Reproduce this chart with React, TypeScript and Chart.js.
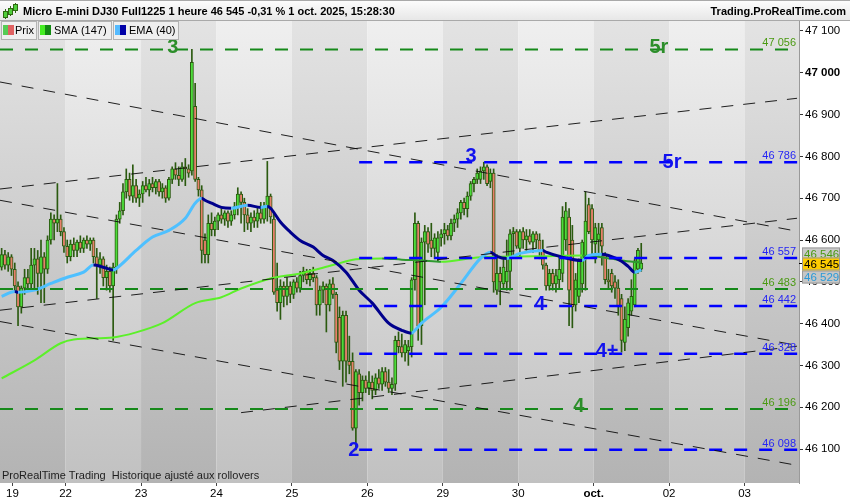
import React, { useEffect, useRef } from 'react';
import { Chart, registerables } from 'chart.js';

Chart.register(...registerables);

const FONT = '"Liberation Sans", Arial, Helvetica, sans-serif';

const titleText = 'Micro E-mini DJ30 Full1225 1 heure 46 545 -0,31 % 1 oct. 2025, 15:28:30';
const brandText = 'Trading.ProRealTime.com';
const footerText = 'ProRealTime Trading  Historique ajusté aux rollovers';
const legendItems = ['Prix', 'SMA (147)', 'EMA (40)'];

// x axis: bar index; day labels and where they sit
const dayLabels = ['19', '22', '23', '24', '25', '26', '29', '30', 'oct.', '02', '03'];
const dayTickAt = [3.3, 19.5, 42.5, 65.5, 88.5, 111.5, 134.5, 157.5, 180.5, 203.5, 226.5];
const dayBandEdges = [-0.5, 19.5, 42.5, 65.5, 88.5, 111.5, 134.5, 157.5, 180.5, 203.5, 226.5, 250];
const priceTicks = [46100, 46200, 46300, 46400, 46500, 46600, 46700, 46800, 46900, 47000, 47100];

const X_MIN = -0.5;
const X_MAX = 243.1;
const Y_MIN = 46018.7;
const Y_MAX = 47123.9;

// hourly candles [open, high, low, close]
const ohlc: number[][] = [
  [46535, 46580, 46528, 46565], [46565, 46575, 46530, 46540], [46540, 46570, 46525, 46560], [46560, 46565, 46515, 46530],
  [46530, 46545, 46480, 46490], [46490, 46500, 46395, 46440], [46440, 46490, 46425, 46485], [46485, 46530, 46470, 46510],
  [46510, 46530, 46480, 46495], [46495, 46580, 46485, 46540], [46540, 46580, 46480, 46555], [46555, 46575, 46470, 46520],
  [46520, 46600, 46450, 46560], [46560, 46570, 46450, 46530], [46530, 46610, 46520, 46600], [46600, 46665, 46590, 46650],
  [46650, 46660, 46600, 46640], [46640, 46735, 46620, 46650], [46650, 46660, 46610, 46620], [46620, 46630, 46570, 46585],
  // 22
  [46585, 46600, 46545, 46560], [46560, 46600, 46550, 46590], [46590, 46605, 46560, 46575], [46575, 46600, 46560, 46595],
  [46595, 46610, 46570, 46580], [46580, 46605, 46570, 46600], [46600, 46610, 46580, 46590], [46590, 46605, 46575, 46600],
  [46600, 46605, 46545, 46560], [46560, 46580, 46460, 46540], [46540, 46570, 46520, 46555], [46555, 46560, 46490, 46510],
  [46510, 46540, 46480, 46525], [46525, 46535, 46475, 46490], [46490, 46545, 46360, 46535], [46535, 46660, 46520, 46650],
  [46650, 46690, 46640, 46670], [46670, 46735, 46660, 46715], [46715, 46770, 46700, 46745], [46745, 46760, 46695, 46705],
  [46705, 46780, 46690, 46730], [46730, 46745, 46690, 46700], [46700, 46720, 46680, 46710],
  // 23
  [46710, 46740, 46690, 46730], [46730, 46750, 46715, 46720], [46720, 46745, 46705, 46735], [46735, 46750, 46715, 46725],
  [46725, 46745, 46710, 46740], [46740, 46745, 46705, 46715], [46715, 46735, 46700, 46725], [46725, 46730, 46690, 46700],
  [46700, 46750, 46695, 46745], [46745, 46775, 46735, 46770], [46770, 46785, 46745, 46755], [46755, 46775, 46730, 46745],
  [46745, 46785, 46740, 46775], [46775, 46795, 46730, 46770], [46770, 46780, 46750, 46760], [46765, 47056, 46755, 47025],
  [46920, 46975, 46740, 46745], [46745, 46750, 46705, 46720], [46720, 46730, 46545, 46575], [46600, 46615, 46545, 46565],
  [46565, 46660, 46545, 46640], [46640, 46665, 46610, 46625], [46625, 46655, 46610, 46645],
  // 24
  [46645, 46665, 46625, 46660], [46660, 46675, 46640, 46650], [46650, 46670, 46635, 46665], [46665, 46670, 46630, 46645],
  [46645, 46670, 46635, 46660], [46660, 46690, 46650, 46680], [46680, 46725, 46660, 46710], [46710, 46715, 46640, 46690],
  [46690, 46700, 46620, 46660], [46660, 46675, 46625, 46640], [46640, 46665, 46620, 46655], [46655, 46670, 46630, 46645],
  [46645, 46680, 46630, 46665], [46665, 46690, 46640, 46650], [46650, 46690, 46640, 46680], [46680, 46788, 46645, 46705],
  [46705, 46710, 46640, 46655], [46650, 46665, 46470, 46475], [46480, 46545, 46430, 46450], [46450, 46505, 46410, 46490],
  [46490, 46500, 46440, 46465], [46465, 46510, 46445, 46490], [46490, 46500, 46450, 46470],
  // 25
  [46470, 46505, 46460, 46500], [46500, 46510, 46475, 46485], [46485, 46525, 46475, 46515], [46515, 46535, 46500, 46525],
  [46525, 46530, 46495, 46505], [46505, 46530, 46490, 46520], [46520, 46535, 46500, 46510], [46510, 46515, 46420, 46445],
  [46445, 46490, 46420, 46480], [46480, 46500, 46450, 46490], [46490, 46495, 46380, 46445], [46445, 46505, 46430, 46495],
  [46495, 46510, 46460, 46470], [46470, 46475, 46330, 46355], [46415, 46440, 46290, 46310], [46310, 46430, 46250, 46420],
  [46420, 46430, 46260, 46310], [46310, 46370, 46280, 46300], [46310, 46330, 46145, 46150], [46150, 46290, 46098, 46285],
  [46280, 46290, 46205, 46235], [46235, 46275, 46215, 46265], [46265, 46275, 46235, 46245],
  // 26
  [46245, 46285, 46230, 46260], [46260, 46275, 46220, 46240], [46240, 46280, 46230, 46270], [46270, 46290, 46245, 46255],
  [46255, 46295, 46240, 46285], [46285, 46295, 46250, 46260], [46260, 46290, 46235, 46245], [46245, 46270, 46230, 46255],
  [46255, 46370, 46240, 46360], [46360, 46380, 46330, 46345], [46345, 46375, 46320, 46330], [46330, 46360, 46310, 46350],
  [46335, 46360, 46300, 46345], [46345, 46510, 46320, 46505], [46505, 46665, 46480, 46640], [46640, 46645, 46360, 46395],
  [46395, 46605, 46350, 46595], [46595, 46635, 46445, 46620], [46620, 46630, 46570, 46590], [46600, 46640, 46560, 46580],
  [46580, 46615, 46555, 46605], [46570, 46620, 46550, 46605], [46605, 46625, 46585, 46615],
  // 29
  [46615, 46640, 46590, 46625], [46625, 46635, 46600, 46610], [46610, 46650, 46600, 46640], [46640, 46660, 46620, 46650],
  [46650, 46675, 46630, 46665], [46665, 46695, 46650, 46690], [46690, 46700, 46660, 46675], [46675, 46715, 46655, 46705],
  [46705, 46740, 46695, 46735], [46735, 46750, 46715, 46745], [46745, 46770, 46735, 46760], [46745, 46775, 46735, 46765],
  [46765, 46786, 46745, 46775], [46775, 46780, 46730, 46735], [46740, 46770, 46725, 46760], [46760, 46770, 46475, 46500],
  [46480, 46565, 46470, 46520], [46520, 46535, 46445, 46500], [46495, 46560, 46485, 46535], [46500, 46600, 46480, 46525],
  [46525, 46625, 46480, 46615], [46615, 46630, 46565, 46620], [46620, 46625, 46580, 46585],
  // 30
  [46580, 46625, 46560, 46620], [46620, 46630, 46580, 46600], [46600, 46625, 46575, 46610], [46610, 46625, 46590, 46595],
  [46595, 46620, 46570, 46615], [46615, 46620, 46580, 46600], [46600, 46615, 46555, 46575], [46575, 46600, 46530, 46540],
  [46540, 46545, 46480, 46490], [46490, 46530, 46480, 46520], [46520, 46530, 46480, 46495], [46495, 46530, 46475, 46515],
  [46505, 46560, 46485, 46530], [46520, 46680, 46500, 46655], [46600, 46690, 46575, 46670], [46655, 46675, 46395, 46480],
  [46600, 46635, 46390, 46440], [46445, 46520, 46430, 46505], [46465, 46555, 46450, 46550], [46495, 46600, 46475, 46595],
  [46560, 46715, 46480, 46645], [46685, 46700, 46615, 46620], [46675, 46685, 46565, 46600],
  // oct. 1
  [46590, 46640, 46545, 46630], [46600, 46640, 46560, 46615], [46630, 46640, 46540, 46585], [46565, 46570, 46495, 46505],
  [46505, 46530, 46485, 46500], [46520, 46530, 46475, 46490], [46500, 46515, 46460, 46485], [46485, 46505, 46420, 46440],
  [46460, 46470, 46332, 46360], [46355, 46440, 46335, 46410], [46390, 46460, 46370, 46450], [46430, 46505, 46420, 46465],
  [46445, 46555, 46440, 46550], [46530, 46580, 46520, 46575], [46530, 46592, 46525, 46545],
];

// moving averages: [bar index, value]
const smaPts: number[][] = [
  [0, 46269], [10, 46312], [18, 46353], [22, 46362], [34, 46367], [41, 46379], [49, 46401], [59, 46449],
  [67, 46463], [73, 46484], [82, 46508], [91, 46520], [101, 46540], [108, 46554], [116, 46556], [122, 46553],
  [128, 46551], [134, 46548], [146, 46559], [162, 46561], [177, 46563], [183, 46559], [189, 46551], [195, 46546],
];
const emaPts: number[][] = [
  [0, 46465], [4, 46477], [5, 46475], [10, 46480], [15, 46496], [20, 46511], [25, 46523], [28, 46540],
  [31, 46535], [34, 46528], [35, 46532], [41, 46575], [46, 46607], [51, 46623], [56, 46652], [59, 46688],
  [61, 46700], [62, 46695], [64, 46688], [67, 46678], [70, 46676], [75, 46683], [79, 46678], [81, 46681],
  [82, 46676], [85, 46643], [88, 46619], [91, 46599], [95, 46583], [98, 46563], [101, 46551], [105, 46523],
  [109, 46480], [113, 46449], [118, 46401], [122, 46384], [125, 46377], [126, 46384], [128, 46401], [134, 46439],
  [140, 46496], [146, 46556], [149, 46571], [151, 46561], [154, 46556], [158, 46568], [165, 46575], [166, 46571],
  [171, 46559], [177, 46551], [179, 46563], [183, 46566], [185, 46563], [189, 46549], [191, 46537], [193, 46523],
  [194, 46525], [195, 46529],
];

const greenLevels = [47056, 46483, 46196];
const blueLevels = [46786, 46557, 46442, 46328, 46098];
const blueLevelsFrom = 109;

// wave labels: text, bar index, price at text centre, colour group
const waveLabels: [string, number, number, string][] = [
  ['3', 52.2, 47062, 'g'], ['5r', 200.4, 47062, 'g'], ['3', 143.1, 46801, 'b'], ['5r', 204.4, 46789, 'b'],
  ['4', 164.1, 46447, 'b'], ['4+', 184.6, 46335, 'b'], ['4', 176.0, 46205, 'g'], ['2', 107.4, 46098, 'b'],
];

// trend lines: [index0, price0, index1, price1]
const trendLines: number[][] = [
  [-0.5, 46978, 242.5, 46621],
  [-0.5, 46722, 242.5, 46939],
  [-0.5, 46432, 242.5, 46652],
  [-0.5, 46695, 242.5, 46348],
  [-0.5, 46405, 242.5, 46061],
  [73, 46187, 242.5, 46346],
];

const WICK = '#2b5a10';
const UP = '#4cdc3a';
const DOWN = '#e8806c';
const SMA_UP = '#5cf02a';
const SMA_DN = '#2f9a2f';
const EMA_UP = '#4ec0ff';
const EMA_DN = '#00008c';
const GREEN_DASH = '#16891a';
const BLUE_DASH = '#0000ff';
const GREEN_TXT = '#4a9a12';
const BLUE_TXT = '#2525f5';
const WAVE_G = '#2c8e2a';
const WAVE_B = '#1212ee';

const fmt = (v: number) => String(Math.round(v)).replace(/\B(?=(\d{3})+(?!\d))/g, ' ');

const decoPlugin = {
  id: 'deco',
  beforeDraw(chart: any) {
    const { ctx, chartArea: a, scales } = chart;
    const xs = scales.x;
    ctx.save();
    ctx.fillStyle = '#ffffff';
    ctx.fillRect(0, 0, chart.width, chart.height);
    for (let k = 0; k < dayBandEdges.length - 1; k++) {
      const x0 = Math.max(a.left, xs.getPixelForValue(dayBandEdges[k]));
      const x1 = Math.min(a.right, xs.getPixelForValue(dayBandEdges[k + 1]));
      if (x1 <= x0) continue;
      const dark = k % 2 === 0;
      const g = ctx.createLinearGradient(0, a.top, 0, a.bottom);
      g.addColorStop(0, dark ? '#e3e3e3' : '#efefef');
      g.addColorStop(1, dark ? '#b3b3b3' : '#c1c1c1');
      ctx.fillStyle = g;
      ctx.fillRect(x0, a.top, x1 - x0, a.bottom - a.top);
    }
    // header
    const hg = ctx.createLinearGradient(0, 0, 0, a.top);
    hg.addColorStop(0, '#fdfdfd');
    hg.addColorStop(1, '#e6e6e6');
    ctx.fillStyle = hg;
    ctx.fillRect(0, 0, chart.width, a.top);
    ctx.strokeStyle = '#a9a9a9';
    ctx.lineWidth = 1;
    ctx.beginPath();
    ctx.moveTo(0, a.top - 0.5);
    ctx.lineTo(chart.width, a.top - 0.5);
    ctx.moveTo(0, 0.5);
    ctx.lineTo(chart.width, 0.5);
    ctx.stroke();
    // icon
    const sticks = [[5, 9, 19, 12, 17], [10, 6, 16, 9, 14], [15, 3, 13, 5, 10]];
    sticks.forEach(([sx, t, b, bt, bb]) => {
      ctx.strokeStyle = '#2f6a12';
      ctx.beginPath();
      ctx.moveTo(sx + 0.5, t);
      ctx.lineTo(sx + 0.5, b);
      ctx.stroke();
      ctx.fillStyle = '#4fcf3a';
      ctx.fillRect(sx - 1, bt, 3, bb - bt);
      ctx.strokeRect(sx - 1.5, bt - 0.5, 4, bb - bt + 1);
    });
    ctx.fillStyle = '#000';
    ctx.font = `bold 11px ${FONT}`;
    ctx.textBaseline = 'middle';
    ctx.textAlign = 'left';
    ctx.fillText(titleText, 23, 12);
    ctx.textAlign = 'right';
    ctx.fillText(brandText, 846, 12);
    ctx.restore();
  },
  afterDatasetsDraw(chart: any) {
    const { ctx, chartArea: a, scales } = chart;
    const xs = scales.x;
    const ys = scales.y;
    ctx.save();
    ctx.font = `11px ${FONT}`;
    ctx.textAlign = 'right';
    ctx.textBaseline = 'alphabetic';
    greenLevels.forEach((p) => {
      ctx.fillStyle = GREEN_TXT;
      ctx.fillText(fmt(p), a.right - 3, ys.getPixelForValue(p) - 3);
    });
    blueLevels.forEach((p) => {
      ctx.fillStyle = BLUE_TXT;
      ctx.fillText(fmt(p), a.right - 3, ys.getPixelForValue(p) - 3);
    });
    ctx.font = `bold 20px ${FONT}`;
    ctx.textAlign = 'center';
    ctx.textBaseline = 'middle';
    waveLabels.forEach(([t, xi, p, c]) => {
      ctx.fillStyle = c === 'g' ? WAVE_G : WAVE_B;
      ctx.fillText(t, xs.getPixelForValue(xi), ys.getPixelForValue(p) + 1);
    });
    // footer
    ctx.font = `11px ${FONT}`;
    ctx.textAlign = 'left';
    ctx.fillStyle = '#1e1e1e';
    ctx.fillText(footerText, 2, 476);
    ctx.restore();
  },
  afterDraw(chart: any) {
    const { ctx, chartArea: a, scales } = chart;
    const ys = scales.y;
    ctx.save();
    // legend boxes
    const boxes = [
      [1, 37, 15, '#55cc55', '#e06262'],
      [38, 112, 54, '#44ee22', '#118a11'],
      [113, 179, 129, '#55bbff', '#0000a8'],
    ];
    boxes.forEach(([x0, x1, tx, c1, c2]: any, k: number) => {
      ctx.fillStyle = '#efefef';
      ctx.fillRect(x0, a.top, x1 - x0, 19);
      ctx.strokeStyle = '#b2b2b2';
      ctx.lineWidth = 1;
      ctx.strokeRect(x0 + 0.5, a.top + 0.5, x1 - x0 - 1, 18);
      ctx.fillStyle = c1;
      ctx.fillRect(x0 + 2, a.top + 4, 5, 10);
      ctx.fillStyle = c2;
      ctx.fillRect(x0 + 7, a.top + 4, 6, 10);
      ctx.fillStyle = '#000';
      ctx.font = `11px ${FONT}`;
      ctx.textAlign = 'left';
      ctx.textBaseline = 'middle';
      ctx.fillText(legendItems[k], tx, a.top + 10);
    });
    // price tags on the axis
    const last = ohlc[ohlc.length - 1][3];
    const lastSma = smaPts[smaPts.length - 1][1];
    const lastEma = emaPts[emaPts.length - 1][1];
    const yp = ys.getPixelForValue(last);
    const tag = (val: number, yc: number, bg: string, fg: string) => {
      ctx.fillStyle = bg;
      ctx.fillRect(802, yc - 6.5, 38, 13);
      ctx.strokeStyle = '#9a9a9a';
      ctx.strokeRect(802.5, yc - 6, 37, 12);
      ctx.fillStyle = fg;
      ctx.font = `11.5px ${FONT}`;
      ctx.textAlign = 'left';
      ctx.textBaseline = 'middle';
      ctx.fillText(fmt(val), 804, yc + 0.5);
    };
    tag(lastSma, yp - 9, '#c9c9c9', '#4a9a12');
    tag(lastEma, yp + 14, '#c6c6c6', '#2a9ad8');
    tag(last, yp + 1, '#ffcc00', '#000000');
    ctx.strokeStyle = '#000';
    ctx.beginPath();
    ctx.moveTo(a.right, Math.round(yp) + 0.5);
    ctx.lineTo(a.right + 3, Math.round(yp) + 0.5);
    ctx.stroke();
    ctx.restore();
  },
};

export default function App() {
  const ref = useRef<HTMLCanvasElement | null>(null);
  useEffect(() => {
    if (!ref.current) return;
    const datasets: any[] = [
      {
        type: 'bar',
        data: ohlc.map((c, i) => ({ x: i, y: [c[2], c[1]] })),
        backgroundColor: WICK,
        borderWidth: 0,
        barThickness: 1,
        grouped: false,
        order: 20,
      },
      {
        type: 'bar',
        data: ohlc.map((c, i) => ({ x: i, y: [c[0], c[3]] })),
        backgroundColor: ohlc.map((c) => (c[3] >= c[0] ? UP : DOWN)),
        borderColor: WICK,
        borderWidth: 1,
        borderSkipped: false,
        barThickness: 3.2,
        grouped: false,
        order: 19,
      },
      {
        type: 'line',
        data: smaPts.map(([x, y]) => ({ x, y })),
        borderColor: SMA_UP,
        borderWidth: 2,
        pointRadius: 0,
        cubicInterpolationMode: 'monotone',
        segment: { borderColor: (c: any) => (c.p1.parsed.y >= c.p0.parsed.y ? SMA_UP : SMA_DN) },
        order: 10,
      },
      {
        type: 'line',
        data: emaPts.map(([x, y]) => ({ x, y })),
        borderColor: EMA_UP,
        borderWidth: 3,
        pointRadius: 0,
        cubicInterpolationMode: 'monotone',
        segment: { borderColor: (c: any) => (c.p1.parsed.y >= c.p0.parsed.y ? EMA_UP : EMA_DN) },
        order: 9,
      },
      ...greenLevels.map((p) => ({
        type: 'line',
        data: [{ x: X_MIN, y: p }, { x: X_MAX, y: p }],
        borderColor: GREEN_DASH,
        borderWidth: 2,
        borderDash: [13, 12],
        pointRadius: 0,
        order: 5,
      })),
      ...blueLevels.map((p) => ({
        type: 'line',
        data: [{ x: blueLevelsFrom, y: p }, { x: X_MAX, y: p }],
        borderColor: BLUE_DASH,
        borderWidth: 2.5,
        borderDash: [13, 12],
        pointRadius: 0,
        order: 4,
      })),
      ...trendLines.map(([x0, y0, x1, y1]) => ({
        type: 'line',
        data: [{ x: x0, y: y0 }, { x: x1, y: y1 }],
        borderColor: 'rgba(10,10,10,0.9)',
        borderWidth: 1,
        borderDash: [12, 10],
        pointRadius: 0,
        order: 2,
      })),
    ];

    const chart = new Chart(ref.current, {
      type: 'bar',
      data: { datasets },
      options: {
        responsive: false,
        animation: false,
        devicePixelRatio: 1,
        events: [],
        layout: { padding: { top: 21, left: 0, right: 0, bottom: 0 } },
        plugins: { legend: { display: false }, tooltip: { enabled: false }, title: { display: false } },
        scales: {
          x: {
            type: 'linear',
            min: X_MIN,
            max: X_MAX,
            offset: false,
            afterBuildTicks: (s: any) => {
              s.ticks = dayTickAt.map((v) => ({ value: v }));
            },
            afterFit: (s: any) => {
              s.height = 17;
            },
            grid: { display: true, drawOnChartArea: false, drawTicks: true, tickLength: 3, color: '#444', offset: false },
            border: { display: false },
            ticks: {
              autoSkip: false,
              maxRotation: 0,
              minRotation: 0,
              padding: 1,
              color: '#000',
              font: (c: any) => ({ family: FONT, size: 11.5, weight: dayLabels[c.index] === 'oct.' ? 'bold' : 'normal' }),
              callback: (_v: any, i: number) => dayLabels[i],
            },
          },
          y: {
            type: 'linear',
            position: 'right',
            min: Y_MIN,
            max: Y_MAX,
            afterBuildTicks: (s: any) => {
              s.ticks = priceTicks.map((v) => ({ value: v }));
            },
            afterFit: (s: any) => {
              s.width = 51;
            },
            grid: { display: true, drawOnChartArea: false, drawTicks: true, tickLength: 4, color: '#333' },
            border: { display: true, color: '#9a9a9a' },
            ticks: {
              padding: 2,
              color: '#000',
              font: (c: any) => ({ family: FONT, size: 11.5, weight: c.tick && c.tick.value === 47000 ? 'bold' : 'normal' }),
              callback: (v: any) => fmt(Number(v)),
            },
          },
        },
      } as any,
      plugins: [decoPlugin as any],
    } as any);
    return () => chart.destroy();
  }, []);

  return (
    <div style={{ position: 'absolute', left: 0, top: 0, width: 850, height: 500, background: '#fff' }}>
      <canvas ref={ref} width={850} height={500} style={{ display: 'block', width: 850, height: 500 }} />
    </div>
  );
}
